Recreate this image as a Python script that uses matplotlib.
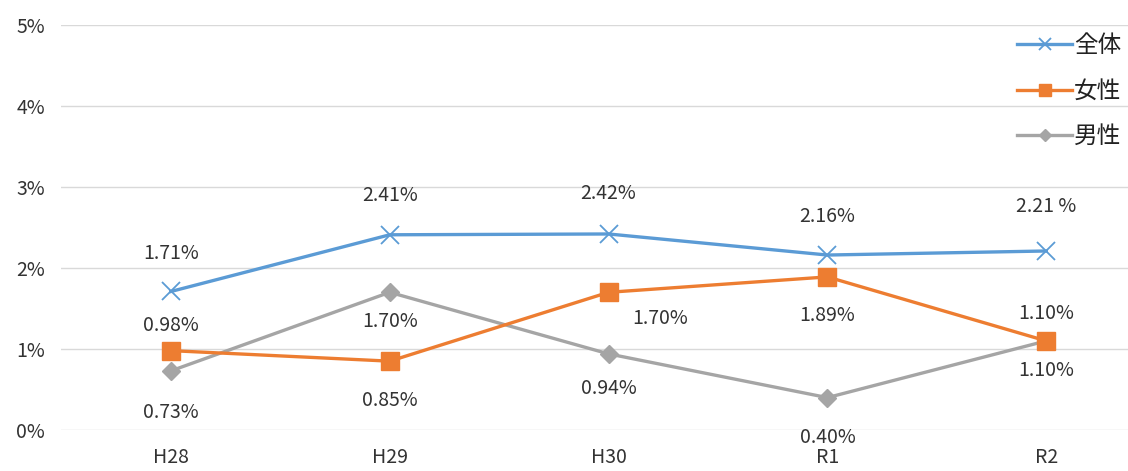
import matplotlib.pyplot as plt
from matplotlib.ticker import FuncFormatter

plt.rcParams['font.family'] = ['Noto Sans CJK JP', 'DejaVu Sans']

# 年度
years = ['H28', 'H29', 'H30', 'R1', 'R2']

# 割合 (%)
total = [1.71, 2.41, 2.42, 2.16, 2.21]
female = [0.98, 0.85, 1.70, 1.89, 1.10]
male = [0.73, 1.70, 0.94, 0.40, 1.10]

total_labels = ['1.71%', '2.41%', '2.42%', '2.16%', '2.21 %']
female_labels = ['0.98%', '0.85%', '1.70%', '1.89%', '1.10%']
male_labels = ['0.73%', '1.70%', '0.94%', '0.40%', '1.10%']

# ラベルの位置 (points)
total_off = [(0, 27), (0, 28), (0, 29), (0, 28), (0, 32)]
female_off = [(0, 18), (0, -28), (37, -19), (0, -28), (0, 20)]
male_off = [(0, -30), (0, -21), (0, -25), (0, -29), (0, -21)]

fig = plt.figure(figsize=(11.28, 4.71), dpi=100)
ax = fig.add_axes([0.0545, 0.087, 0.97, 0.86])

x = range(len(years))
ax.plot(x, total, color='#5B9BD5', lw=2.4, marker='x', ms=13, mew=1.3, label='全体', zorder=3)
ax.plot(x, female, color='#ED7D31', lw=2.4, marker='s', ms=13, label='女性', zorder=4)
ax.plot(x, male, color='#A5A5A5', lw=2.4, marker='D', ms=9, label='男性', zorder=2)

for vals, labs, offs in [(total, total_labels, total_off),
                         (female, female_labels, female_off),
                         (male, male_labels, male_off)]:
    for i, (v, t, o) in enumerate(zip(vals, labs, offs)):
        ax.annotate(t, (i, v), xytext=o, textcoords='offset points',
                    ha='center', va='center', fontsize=14, color='#333333')

ax.set_xlim(-0.5, 4.5)
ax.set_ylim(0, 5)
ax.set_yticks([0, 1, 2, 3, 4, 5])
ax.yaxis.set_major_formatter(FuncFormatter(lambda v, p: f'{v:.0f}%'))
ax.set_xticks(list(x))
ax.set_xticklabels(years)
ax.tick_params(length=0, labelsize=14, labelcolor='#333333')
ax.tick_params(axis='y', pad=12)
ax.tick_params(axis='x', pad=12)
ax.grid(axis='y', color='#D9D9D9', lw=1)
ax.set_axisbelow(True)
for s in ax.spines.values():
    s.set_visible(False)

ax.legend(loc='upper right', bbox_to_anchor=(1.013, 0.972), bbox_transform=fig.transFigure,
          frameon=False, fontsize=17, handlelength=2.3, handletextpad=0.1,
          labelspacing=0.95, markerscale=0.7, labelcolor='#222222')

fig.savefig('out.png', dpi=100)
